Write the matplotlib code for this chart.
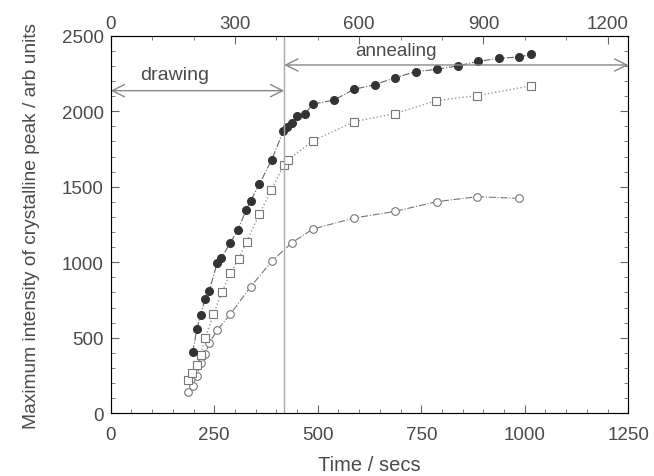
import matplotlib
matplotlib.use('Agg')
from matplotlib import pyplot as plt
from matplotlib.ticker import MultipleLocator, FixedLocator

plt.rcParams['font.family'] = ['Liberation Sans', 'DejaVu Sans']

# filled circles
t_filled = [198, 208, 217, 228, 238, 257, 267, 288, 307, 327, 338, 359, 389, 417, 426,
            437, 449, 469, 488, 539, 588, 638, 687, 737, 787, 838, 888, 938, 987, 1016]
v_filled = [404, 558, 651, 757, 812, 993, 1026, 1126, 1214, 1346, 1408, 1518, 1679, 1871, 1894,
            1922, 1966, 1982, 2047, 2074, 2145, 2176, 2222, 2262, 2277, 2300, 2330, 2350, 2359, 2377]

# open squares
t_square = [187, 197, 209, 217, 228, 248, 269, 289, 309, 328, 359, 388, 418, 428,
            488, 588, 687, 786, 885, 1016]
v_square = [220, 265, 322, 385, 498, 655, 805, 927, 1024, 1136, 1319, 1480, 1642, 1677,
            1804, 1931, 1984, 2070, 2103, 2169]

# open circles
t_circle = [187, 198, 208, 217, 228, 238, 257, 289, 338, 389, 438, 488, 588, 687, 787, 884, 987]
v_circle = [139, 179, 249, 331, 393, 465, 551, 657, 838, 1008, 1130, 1220, 1293, 1337, 1401, 1434, 1423]

t_switch = 419
drawing_y = 2136
annealing_y = 2306

ink = '#4a4a4a'
fig = plt.figure(figsize=(6.54, 4.77), dpi=100)
ax = fig.add_axes([0.1693, 0.1314, 0.7914, 0.7917])

ax.plot(t_circle, v_circle, linestyle='-.', color='#777777', lw=0.8, marker='o', ms=5.5,
        mfc='white', mec='#777777', mew=0.8)
ax.plot(t_square, v_square, linestyle=':', color='#999999', lw=1.0, marker='s', ms=5.5,
        mfc='white', mec='#777777', mew=0.8)
ax.plot(t_filled, v_filled, linestyle='-.', color='#666666', lw=0.8, marker='o', ms=5.5,
        mfc='#333333', mec='#333333')

ax.axvline(t_switch, color='#aaaaaa', lw=1.0)

arrow = dict(arrowstyle='<->', color='#888888', lw=1.0, mutation_scale=22,
             shrinkA=0, shrinkB=0)
ax.annotate('', xy=(0, drawing_y), xytext=(t_switch, drawing_y), arrowprops=arrow)
ax.annotate('', xy=(t_switch, annealing_y), xytext=(1250, annealing_y), arrowprops=arrow)
ax.text(155, 2240, 'drawing', fontsize=14, color=ink, ha='center', va='center')
ax.text(690, 2405, 'annealing', fontsize=13.5, color=ink, ha='center', va='center')

ax.set_xlim(0, 1250)
ax.set_ylim(0, 2500)
ax.xaxis.set_major_locator(MultipleLocator(250))
ax.xaxis.set_minor_locator(MultipleLocator(50))
ax.yaxis.set_major_locator(MultipleLocator(500))
ax.yaxis.set_minor_locator(MultipleLocator(100))
ax.tick_params(which='both', direction='in', colors='#666666', labelcolor=ink,
               labelsize=13.5, right=True)
ax.tick_params(which='major', length=6)
ax.tick_params(which='minor', length=3)
ax.tick_params(axis='x', pad=9)
ax.tick_params(axis='y', pad=5)
for s in ax.spines.values():
    s.set_color('#777777')

top = ax.twiny()
top.set_xlim(0, 1250)
top.xaxis.set_major_locator(FixedLocator([0, 300, 600, 900, 1200]))
top.xaxis.set_minor_locator(MultipleLocator(100))
top.tick_params(which='both', direction='in', colors='#666666', labelcolor=ink, labelsize=13.5, pad=3)
top.tick_params(which='major', length=6)
top.tick_params(which='minor', length=3)

ax.set_xlabel('Time / secs', fontsize=14.5, color=ink, labelpad=9)
ax.set_ylabel('Maximum intensity of crystalline peak / arb units', fontsize=13.8, color=ink, labelpad=16)

fig.savefig('out.png', dpi=100)
